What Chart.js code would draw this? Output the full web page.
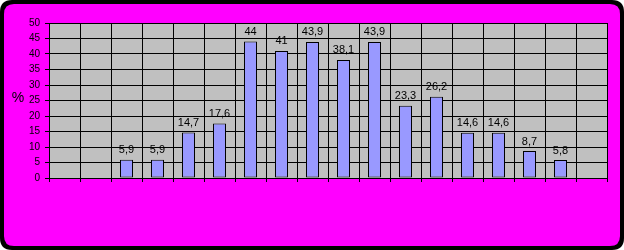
<!DOCTYPE html>
<html>
<head>
<meta charset="utf-8">
<script src="https://cdn.jsdelivr.net/npm/chart.js"></script>
<style>
  body { margin: 0; background: #fff; }
  #wrap { width: 624px; height: 250px; }
</style>
</head>
<body>
<div id="wrap"><canvas id="chart" width="624" height="250"></canvas></div>
<script>
  // dane
  const categories = ['1', '2', '3', '4', '5', '6', '7', '8', '9', '10', '11', '12', '13', '14', '15', '16', '17', '18'];
  const values = [null, null, 5.9, 5.9, 14.7, 17.6, 44, 41, 43.9, 38.1, 43.9, 23.3, 26.2, 14.6, 14.6, 8.7, 5.8, null];
  const yTicks = [0, 5, 10, 15, 20, 25, 30, 35, 40, 45, 50];
  const yLabel = '%';

  function roundRect(ctx, x, y, w, h, r) {
    ctx.beginPath();
    ctx.moveTo(x + r, y);
    ctx.lineTo(x + w - r, y);
    ctx.quadraticCurveTo(x + w, y, x + w, y + r);
    ctx.lineTo(x + w, y + h - r);
    ctx.quadraticCurveTo(x + w, y + h, x + w - r, y + h);
    ctx.lineTo(x + r, y + h);
    ctx.quadraticCurveTo(x, y + h, x, y + h - r);
    ctx.lineTo(x, y + r);
    ctx.quadraticCurveTo(x, y, x + r, y);
    ctx.closePath();
  }

  // tlo, ramka i szary obszar wykresu
  const background = {
    id: 'background',
    beforeDraw(chart) {
      const ctx = chart.ctx;
      const a = chart.chartArea;
      ctx.save();
      ctx.fillStyle = '#ffffff';
      ctx.fillRect(0, 0, chart.width, chart.height);
      ctx.fillStyle = '#000000';
      roundRect(ctx, 0, 0, chart.width, chart.height, 12);
      ctx.fill();
      ctx.fillStyle = '#ff00ff';
      roundRect(ctx, 4, 4, chart.width - 8, chart.height - 8, 10);
      ctx.fill();
      ctx.fillStyle = '#c0c0c0';
      ctx.fillRect(a.left, a.top, a.right - a.left, a.bottom - a.top);
      ctx.fillStyle = '#000000';
      ctx.font = '14px "Liberation Sans", Arial, sans-serif';
      ctx.textAlign = 'center';
      ctx.textBaseline = 'middle';
      ctx.fillText(yLabel, 18, 98);
      ctx.restore();
    }
  };

  // etykiety nad slupkami
  const barLabels = {
    id: 'barLabels',
    afterDatasetsDraw(chart) {
      const ctx = chart.ctx;
      const meta = chart.getDatasetMeta(0);
      ctx.save();
      ctx.fillStyle = '#000000';
      ctx.font = '11px "Liberation Sans", Arial, sans-serif';
      ctx.textAlign = 'center';
      ctx.textBaseline = 'bottom';
      meta.data.forEach((bar, i) => {
        const v = values[i];
        if (v === null) return;
        ctx.fillText(String(v).replace('.', ','), bar.x, bar.y - 4);
      });
      ctx.restore();
    }
  };

  new Chart(document.getElementById('chart'), {
    type: 'bar',
    data: {
      labels: categories,
      datasets: [{
        data: values,
        backgroundColor: '#9999ff',
        borderColor: '#000000',
        borderWidth: 1,
        borderSkipped: false,
        categoryPercentage: 1,
        barPercentage: 0.42
      }]
    },
    options: {
      responsive: false,
      animation: false,
      events: [],
      layout: { padding: { left: 0, top: 23, right: 17, bottom: 0 } },
      plugins: { legend: { display: false }, tooltip: { enabled: false } },
      scales: {
        x: {
          ticks: { display: false },
          grid: {
            color: (c) => c.index === categories.length ? '#808080' : '#000000',
            lineWidth: 1,
            tickLength: 4,
            offset: true
          },
          border: { display: true, color: '#000000' },
          afterFit: (s) => { s.height = 72; }
        },
        y: {
          min: 0,
          max: 50,
          afterBuildTicks: (s) => { s.ticks = yTicks.map(v => ({ value: v })); },
          ticks: {
            color: '#000000',
            padding: 5,
            font: { family: '"Liberation Sans", Arial, sans-serif', size: 10 }
          },
          grid: { color: '#000000', lineWidth: 1, tickLength: 4 },
          border: { display: true, color: '#000000' },
          afterFit: (s) => { s.width = 49; }
        }
      }
    },
    plugins: [background, barLabels]
  });
</script>
</body>
</html>
